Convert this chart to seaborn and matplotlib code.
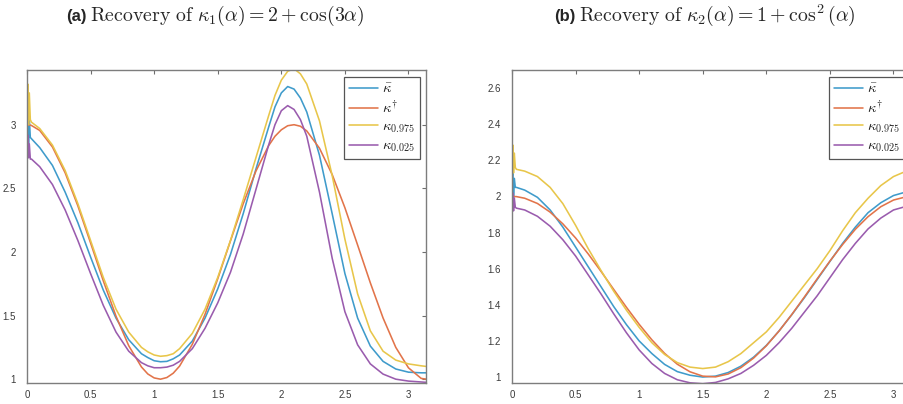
import matplotlib
matplotlib.use("Agg")
import matplotlib.pyplot as plt
import pandas as pd
import seaborn as sns

# ---------------- data ----------------
# (a) kappa_1(alpha) = 2 + cos(3 alpha)
alpha_a = [0.0, 0.006, 0.012, 0.018, 0.026, 0.035,
           0.1, 0.2, 0.3, 0.4, 0.5, 0.6, 0.7, 0.8, 0.9, 0.95, 1.0, 1.05, 1.1, 1.15,
           1.2, 1.3, 1.4, 1.5, 1.6, 1.7, 1.8, 1.9, 1.95, 2.0, 2.05, 2.1, 2.15, 2.2,
           2.3, 2.4, 2.5, 2.6, 2.7, 2.8, 2.9, 3.0, 3.1, 3.1416]
kbar_a = [2.95, 3.15, 2.85, 3.05, 2.90, 2.89,
          2.82, 2.68, 2.47, 2.23, 1.96, 1.70, 1.48, 1.31, 1.20, 1.17, 1.145, 1.137, 1.14, 1.16,
          1.19, 1.30, 1.48, 1.71, 1.98, 2.30, 2.65, 2.98, 3.14, 3.25, 3.30, 3.28, 3.21, 3.10,
          2.76, 2.30, 1.83, 1.48, 1.26, 1.14, 1.08, 1.055, 1.05, 1.05]
ktrue_a = [3.000, 3.000, 2.999, 2.999, 2.997, 2.994,
           2.955, 2.825, 2.622, 2.362, 2.071, 1.773, 1.495, 1.263, 1.096, 1.041, 1.010, 1.000, 1.013, 1.047,
           1.103, 1.274, 1.510, 1.789, 2.087, 2.378, 2.635, 2.835, 2.909, 2.960, 2.992, 3.000, 2.988, 2.951,
           2.815, 2.608, 2.347, 2.054, 1.757, 1.481, 1.250, 1.089, 1.006, 1.000]
k975_a = [3.05, 3.32, 3.00, 3.25, 3.04, 3.02,
          2.97, 2.84, 2.64, 2.38, 2.09, 1.80, 1.55, 1.37, 1.25, 1.215, 1.19, 1.18, 1.185, 1.20,
          1.24, 1.36, 1.55, 1.80, 2.09, 2.41, 2.74, 3.07, 3.23, 3.35, 3.42, 3.44, 3.40, 3.32,
          3.03, 2.60, 2.10, 1.67, 1.38, 1.22, 1.15, 1.12, 1.105, 1.10]
k025_a = [2.80, 2.92, 2.74, 2.85, 2.73, 2.73,
          2.67, 2.53, 2.33, 2.09, 1.83, 1.58, 1.37, 1.22, 1.13, 1.105, 1.09, 1.09, 1.095, 1.11,
          1.14, 1.24, 1.40, 1.60, 1.84, 2.14, 2.49, 2.84, 3.00, 3.11, 3.15, 3.12, 3.04, 2.91,
          2.47, 1.95, 1.53, 1.27, 1.12, 1.04, 1.00, 0.985, 0.978, 0.975]

# (b) kappa_2(alpha) = 1 + cos^2(alpha)
alpha_b = [0.0, 0.006, 0.012, 0.018, 0.026, 0.035,
           0.1, 0.2, 0.3, 0.4, 0.5, 0.6, 0.7, 0.8, 0.9, 1.0, 1.1, 1.2, 1.3, 1.4,
           1.5, 1.6, 1.7, 1.8, 1.9, 2.0, 2.1, 2.2, 2.3, 2.4, 2.5, 2.6, 2.7, 2.8,
           2.9, 3.0, 3.1, 3.1416]
kbar_b = [2.08, 2.16, 1.98, 2.10, 2.05, 2.05,
          2.035, 1.995, 1.925, 1.83, 1.72, 1.61, 1.50, 1.39, 1.29, 1.20, 1.13, 1.07, 1.03, 1.01,
          1.00, 1.005, 1.025, 1.06, 1.11, 1.175, 1.255, 1.345, 1.44, 1.54, 1.64, 1.74, 1.83, 1.91,
          1.965, 2.005, 2.025, 2.03]
ktrue_b = [2.000, 2.000, 2.000, 2.000, 1.999, 1.999,
           1.990, 1.961, 1.913, 1.848, 1.770, 1.681, 1.585, 1.485, 1.386, 1.292, 1.206, 1.131, 1.071, 1.029,
           1.005, 1.001, 1.017, 1.052, 1.105, 1.173, 1.255, 1.346, 1.444, 1.544, 1.642, 1.734, 1.818, 1.888,
           1.943, 1.980, 1.998, 2.000]
k975_b = [2.20, 2.285, 2.13, 2.24, 2.16, 2.15,
          2.14, 2.11, 2.05, 1.96, 1.84, 1.71, 1.59, 1.475, 1.37, 1.275, 1.19, 1.125, 1.08, 1.055,
          1.047, 1.055, 1.085, 1.13, 1.19, 1.25, 1.33, 1.42, 1.51, 1.60, 1.70, 1.81, 1.91, 1.99,
          2.06, 2.11, 2.14, 2.15]
k025_b = [1.98, 2.02, 1.92, 1.99, 1.94, 1.935,
          1.925, 1.89, 1.835, 1.76, 1.67, 1.565, 1.46, 1.35, 1.245, 1.15, 1.075, 1.02, 0.985, 0.968,
          0.963, 0.97, 0.99, 1.02, 1.065, 1.12, 1.19, 1.27, 1.36, 1.45, 1.55, 1.65, 1.74, 1.82,
          1.88, 1.925, 1.945, 1.95]

series_labels = [r"$\bar{\kappa}$", r"$\kappa^{\dagger}$", r"$\kappa_{0.975}$", r"$\kappa_{0.025}$"]
series_colors = ["#3f9bcb", "#e2744a", "#e8c64a", "#9a5cae"]

xticks = [0, 0.5, 1, 1.5, 2, 2.5, 3]
yticks_a = [1, 1.5, 2, 2.5, 3]
yticks_b = [1, 1.2, 1.4, 1.6, 1.8, 2, 2.2, 2.4, 2.6]
ticklabels_a = ["1", "1.5", "2", "2.5", "3"]
ticklabels_b = ["1", "1.2", "1.4", "1.6", "1.8", "2", "2.2", "2.4", "2.6"]
xticklabels = ["0", "0.5", "1", "1.5", "2", "2.5", "3"]


def long_frame(alpha, curves):
    rows = []
    for label, values in zip(series_labels, curves):
        for a, v in zip(alpha, values):
            rows.append({"alpha": a, "kappa": v, "series": label})
    return pd.DataFrame(rows)


sns.set_theme(style="white")
plt.rcParams["mathtext.fontset"] = "cm"
plt.rcParams["font.family"] = ["Liberation Sans", "DejaVu Sans"]

W, H = 904, 404
fig = plt.figure(figsize=(W / 100, H / 100), dpi=100)
fig.patch.set_facecolor("white")

ax_a = fig.add_axes([27 / W, 1 - 383 / H, 399.5 / W, 313 / H])
ax_b = fig.add_axes([512 / W, 1 - 383 / H, 399.5 / W, 313 / H])

panels = [
    (ax_a, alpha_a, [kbar_a, ktrue_a, k975_a, k025_a], (0.97, 3.43), yticks_a, ticklabels_a),
    (ax_b, alpha_b, [kbar_b, ktrue_b, k975_b, k025_b], (0.967, 2.70), yticks_b, ticklabels_b),
]

for ax, alpha, curves, ylim, yt, ytl in panels:
    df = long_frame(alpha, curves)
    sns.lineplot(data=df, x="alpha", y="kappa", hue="series", hue_order=series_labels,
                 palette=dict(zip(series_labels, series_colors)), estimator=None,
                 sort=False, linewidth=1.15, ax=ax)
    ax.set_xlim(0, 3.1416)
    ax.set_ylim(*ylim)
    ax.set_xticks(xticks)
    ax.set_xticklabels(xticklabels)
    ax.set_yticks(yt)
    ax.set_yticklabels(ytl)
    ax.set_xlabel("")
    ax.set_ylabel("")
    for sp in ax.spines.values():
        sp.set_color("#7d7d7d")
        sp.set_linewidth(1.0)
    ax.tick_params(axis="both", direction="in", length=3, width=0.8, color="#6e6e6e",
                   labelsize=7, labelcolor="#3a3a3a", top=True, right=True)
    ax.tick_params(axis="x", pad=5)
    ax.tick_params(axis="y", pad=8)
    handles, labels = ax.get_legend_handles_labels()
    leg = ax.legend(handles, labels, loc="upper right", fontsize=10.5, frameon=True,
                    fancybox=False, framealpha=1, edgecolor="#555555",
                    handlelength=2.0, handletextpad=0.25, labelspacing=0.25,
                    borderpad=0.35, borderaxespad=0.45)
    leg.get_frame().set_linewidth(0.9)

# panel captions: bold sans tag followed by a Computer Modern formula
fig.text(86.5 / W, 1 - 21 / H, "(a)", ha="right", va="baseline",
         fontsize=12, fontweight="bold", family="Liberation Sans")
fig.text(90.5 / W, 1 - 21 / H,
         r"$\mathrm{Recovery\ of}\ \kappa_1(\alpha)=2+\cos(3\alpha)$",
         ha="left", va="baseline", fontsize=14.3)
fig.text(575.5 / W, 1 - 21 / H, "(b)", ha="right", va="baseline",
         fontsize=12, fontweight="bold", family="Liberation Sans")
fig.text(579 / W, 1 - 21 / H,
         r"$\mathrm{Recovery\ of}\ \kappa_2(\alpha)=1+\cos^2(\alpha)$",
         ha="left", va="baseline", fontsize=14.3)

fig.savefig("out.png", dpi=100, facecolor="white")
